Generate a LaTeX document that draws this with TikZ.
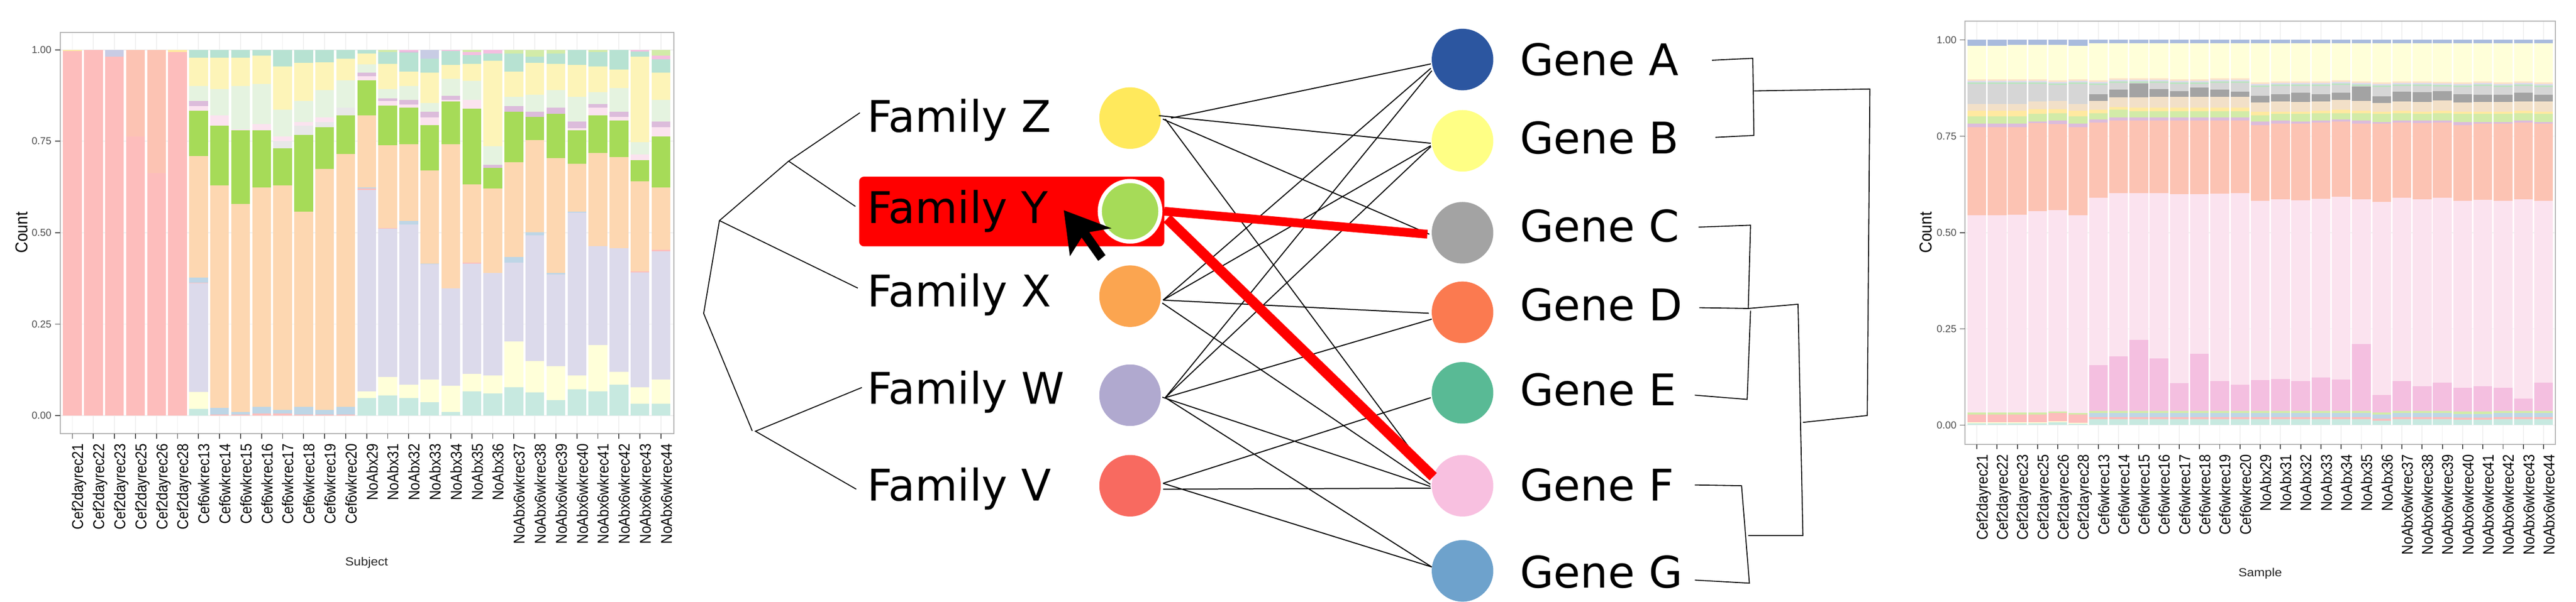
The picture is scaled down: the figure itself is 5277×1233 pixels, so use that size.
\documentclass[tikz,border=0pt]{standalone}
\usepackage{fontspec}
\setmainfont{DejaVu Sans}
\newfontfamily\chartfont{Liberation Sans}
\definecolor{tt}{HTML}{B7E2D2}
\definecolor{te}{HTML}{C7E9E0}
\definecolor{yl}{HTML}{FDF4B8}
\definecolor{ly}{HTML}{FFFFD9}
\definecolor{lg}{HTML}{E5F3E0}
\definecolor{ma}{HTML}{DCBCDB}
\definecolor{lp}{HTML}{FBE3EF}
\definecolor{gy}{HTML}{E8E8E8}
\definecolor{gn}{HTML}{A6DB58}
\definecolor{pc}{HTML}{FDD7B1}
\definecolor{bl}{HTML}{BED6E6}
\definecolor{sa}{HTML}{FDBDBC}
\definecolor{so}{HTML}{FCC3B3}
\definecolor{la}{HTML}{DCDAEB}
\definecolor{pw}{HTML}{C8CCE4}
\definecolor{pg}{HTML}{D2EBA8}
\definecolor{pk}{HTML}{F4BFE0}
\definecolor{pb}{HTML}{A9BBDD}
\definecolor{lgr}{HTML}{D6D6D6}
\definecolor{dgr}{HTML}{A3A3A3}
\definecolor{be}{HTML}{F2E0C8}
\definecolor{oy}{HTML}{FFE9A0}
\definecolor{pkl}{HTML}{FDE3C8}
\definecolor{tg}{HTML}{BBE4C0}
\definecolor{cA}{HTML}{2C56A0}
\definecolor{cB}{HTML}{FFFF85}
\definecolor{cC}{HTML}{A3A3A3}
\definecolor{cD}{HTML}{FB7A50}
\definecolor{cE}{HTML}{59BA95}
\definecolor{cF}{HTML}{F8C0E0}
\definecolor{cG}{HTML}{6EA2CC}
\definecolor{cZ}{HTML}{FFE95C}
\definecolor{cY}{HTML}{A6DB58}
\definecolor{cX}{HTML}{FBA550}
\definecolor{cW}{HTML}{B0A9CF}
\definecolor{cV}{HTML}{F86A60}
\tikzset{
  dot/.style={circle,minimum size=1.26cm,inner sep=0pt,outer sep=0pt,fill=#1},
  bigtext/.style={anchor=base west,inner sep=0pt,font=\fontsize{25.4}{30}\selectfont},
  thinedge/.style={line width=0.6pt,black},
  rededgeC/.style={line width=5.1pt,red},
  rededgeF/.style={line width=6pt,red},
  treeedge/.style={line width=0.55pt,black,line join=miter},
  panelbox/.style={draw=black!30,line width=0.6pt},
  gridln/.style={draw=black!6,line width=0.5pt},
  tickln/.style={draw=black!70,line width=0.55pt},
  ticktext/.style={anchor=east,inner sep=0pt,text=black!70,font=\chartfont\fontsize{5.9}{7}\selectfont},
  xtext/.style={rotate=90,anchor=base east,inner sep=0pt,font=\chartfont\fontsize{9.1}{10}\selectfont},
  titletext/.style={inner sep=0pt,font=\chartfont\fontsize{10}{11}\selectfont},
  subtext/.style={inner sep=0pt,text=black!85,font=\chartfont\fontsize{6.8}{9}\selectfont},
}
\newcommand{\lbar}[2]{\foreach \yt/\cc in {#2}{\fill[fill=\cc] ({148.3+(#1-1)*43.06-19.2},\yt) rectangle ({148.3+(#1-1)*43.06+19.2},1083);}}
\begin{document}
\begin{tikzpicture}[x=0.01cm,y=-0.01cm]
\useasboundingbox (0,0) rectangle (5277,1233);
\fill[white] (0,0) rectangle (5277,1233);

%% LEFT CHART
\begin{scope}[y=-0.007864cm]
\foreach \i in {0,...,28}{\draw[gridln] ({148.3+\i*43.06},84) -- ({148.3+\i*43.06},1130);}
\foreach \v in {130,368,607,845,1083}{\draw[gridln] (123,\v) -- (1380,\v);}
\lbar{1}{130/oy,133/sa}
\lbar{2}{130/sa}
\lbar{3}{130/pw,148/sa}
\lbar{4}{130/so,356/sa}
\lbar{5}{130/so,451/sa}
\lbar{6}{130/oy,135/sa}
\lbar{7}{130/tt,150/yl,224/lg,263/ma,277/lp,289/gn,407/pc,724/bl,737/sa,738/la,1022/ly,1066/te}
\lbar{8}{130/tt,150/yl,232/lg,300/lp,328/gn,483/pc,1063/bl,1080/sa}
\lbar{9}{130/tt,150/yl,224/lg,337/lp,340/gn,531/pc,1074/bl,1080/sa}
\lbar{10}{130/tt,145/yl,219/lg,324/lp,340/gn,488/pc,1060/bl,1078/sa}
\lbar{11}{130/tt,173/yl,286/lg,356/lp,368/gy,387/gn,483/pc,1068/bl,1078/sa}
\lbar{12}{130/tt,164/yl,263/lg,318/lp,328/gy,351/gn,551/pc,1060/bl,1080/sa}
\lbar{13}{130/tt,162/yl,235/lg,306/lp,318/gy,331/gn,440/pc,1068/bl,1080/sa}
\lbar{14}{130/tt,153/yl,210/lg,280/gy,300/gn,402/pc,1060/bl,1080/sa}
\lbar{15}{130/tt,139/yl,168/lg,189/ma,198/lp,210/gn,300/pc,488/bl,491/sa,495/la,1020/ly,1037/te}
\lbar{16}{130/pg,136/tt,167/yl,232/lg,257/ma,263/lp,275/gn,379/pc,594/sa,596/la,983/ly,1031/te}
\lbar{17}{130/pk,134/ma,137/tt,187/yl,224/lg,260/ma,272/lp,280/gn,376/pc,576/bl,585/la,1003/ly,1037/te}
\lbar{18}{130/pw,153/tt,189/yl,268/lg,291/ma,306/lp,326/gn,444/pc,687/bl,689/la,989/ly,1048/te}
\lbar{19}{130/pk,133/tt,169/yl,206/lg,249/ma,260/lp,265/gn,376/pc,752/la,1006/ly,1074/te}
\lbar{20}{130/pg,136/pk,144/tt,167/yl,211/lg,261/lp,283/gn,480/pc,685/sa,687/la,975/ly,1020/te}
\lbar{21}{130/pk,140/tt,158/yl,381/lg,430/ma,438/gn,491/pc,712/la,978/ly,1026/te}
\lbar{22}{130/pg,139/tt,187/yl,252/lg,277/ma,291/gn,423/pc,670/bl,684/la,890/ly,1009/te}
\lbar{23}{130/pg,148/tt,164/yl,247/lg,291/ma,305/gn,365/pc,605/bl,613/la,941/ly,1023/te}
\lbar{24}{130/pg,139/tt,167/yl,235/lg,280/ma,296/gn,412/pc,712/bl,715/la,955/ly,1043/te}
\lbar{25}{130/tt,169/yl,253/lg,317/ma,334/lp,340/gn,427/pc,552/bl,555/la,978/ly,1015/te}
\lbar{26}{130/pg,136/tt,173/yl,240/lg,271/ma,280/lp,300/gn,398/pc,641/la,899/ly,1020/te}
\lbar{27}{130/tt,181/yl,230/lg,291/ma,305/lp,314/gn,409/pc,647/la,969/ly,1003/te}
\lbar{28}{130/pk,134/tt,148/yl,371/lg,403/lp,418/gn,472/pc,707/sa,710/la,1009/ly,1052/te}
\lbar{29}{130/pg,145/pk,155/tt,189/yl,261/lg,317/ma,331/lp,356/gn,488/pc,651/sa,655/la,989/ly,1052/te}
\draw[panelbox] (123,84) rectangle (1380,1130);
\foreach \v/\t in {130/1.00,368/0.75,607/0.50,845/0.25,1083/0.00}{
  \draw[tickln] (113,\v) -- (123,\v);
  \node[ticktext,name=lt\t] at (106,\v) {\t};
}
\foreach \t [count=\i from 0] in {Cef2dayrec21,Cef2dayrec22,Cef2dayrec23,Cef2dayrec25,Cef2dayrec26,Cef2dayrec28,Cef6wkrec13,Cef6wkrec14,Cef6wkrec15,Cef6wkrec16,Cef6wkrec17,Cef6wkrec18,Cef6wkrec19,Cef6wkrec20,NoAbx29,NoAbx31,NoAbx32,NoAbx33,NoAbx34,NoAbx35,NoAbx36,NoAbx6wkrec37,NoAbx6wkrec38,NoAbx6wkrec39,NoAbx6wkrec40,NoAbx6wkrec41,NoAbx6wkrec42,NoAbx6wkrec43,NoAbx6wkrec44}{
  \draw[tickln] ({148.3+\i*43.06},1130) -- ({148.3+\i*43.06},1143);
  \node[xtext,name=lx\i] at ({148.3+\i*43.06+22.5},1156) {\scalebox{0.88}[1]{\t}};
}
\node[titletext,rotate=90,name=lcount] at (44,606) {\scalebox{0.9}[1]{Count}};
\node[subtext,name=lsubject] at (751,1466) {\scalebox{1.1}[1]{Subject}};
\end{scope}

%% RIGHT CHART
\begin{scope}[y=-0.007864cm]
\foreach \i in {0,...,28}{\draw[gridln] ({4049.6+\i*41.46},55) -- ({4049.6+\i*41.46},1158);}
\foreach \v in {104,355,607,857,1108}{\draw[gridln] (4025,\v) -- (5235,\v);}
\foreach \idx/\qb/\qly/\qlg/\qdg/\qbe/\qor/\qpg/\qma/\qsa/\qlp/\qpk in {
0/119/207/271/271/289/303/322/331/561/1075/1075,
1/120/207/271/271/289/303/322/331/561/1075/1075,
2/117/207/271/271/289/303/322/331/560/1075/1075,
3/117/207/265/265/285/296/317/321/550/1075/1075,
4/117/209/263/263/285/295/314/323/547/1072/1072,
5/120/207/271/271/289/303/322/331/561/1076/1076,
6/113/210/246/263/286/295/311/319/515/952/1071,
7/113/204/234/254/279/286/306/314/503/929/1071,
8/113/204/218/254/280/290/306/314/504/886/1071,
9/113/204/232/253/280/290/306/314/504/934/1071,
10/113/207/238/252/280/290/306/314/506/999/1071,
11/113/207/228/253/280/290/306/314/506/922/1071,
12/113/204/234/253/280/290/306/314/505/993/1071,
13/113/204/239/253/280/290/306/314/504/1003/1071,
14/113/215/250/267/291/300/317/326/524/991/1071,
15/113/212/245/264/291/296/314/322/520/988/1071,
16/113/212/242/266/291/296/317/322/522/993/1071,
17/113/212/245/264/288/295/314/320/518/984/1071,
18/113/210/242/260/286/295/311/317/513/989/1071,
19/113/212/226/263/288/295/314/322/520/897/1071,
20/113/215/251/269/291/296/318/322/526/1030/1075,
21/113/212/239/264/288/295/314/319/515/993/1071,
22/113/212/240/266/291/296/314/321/520/1007/1071,
23/113/213/237/262/288/295/314/319/515/997/1071,
24/113/215/245/267/291/296/318/326/524/1011/1073,
25/113/212/247/266/291/296/318/322/521/1007/1073,
26/113/215/247/266/291/296/318/322/524/1011/1071,
27/113/212/241/264/288/295/314/319/520/1039/1071,
28/113/215/247/264/291/296/318/322/524/997/1071}{
  \pgfmathsetmacro{\xa}{4049.6+\idx*41.46-19.2}
  \pgfmathsetmacro{\xb}{4049.6+\idx*41.46+19.2}
  \foreach \yt/\cc in {104/pb,\qb/ly,\qly/pkl,{\qly+4}/la,{\qly+8}/tg,{\qly+12}/lgr,\qlg/dgr,\qdg/be,\qbe/oy,\qor/pg,\qpg/ma,\qma/so,\qsa/lp,\qlp/pk}{
    \fill[fill=\cc] (\xa,{\yt}) rectangle (\xb,1108);
  }
  \ifnum\idx<6
    \fill[fill=pg] (\xa,\qpk) rectangle (\xb,1108);
    \fill[fill=sa] (\xa,{\qpk+5}) rectangle (\xb,1108);
    \fill[fill=ly] (\xa,{\qpk+26}) rectangle (\xb,1108);
    \fill[fill=te] (\xa,{\qpk+29}) rectangle (\xb,1108);
  \else
    \fill[fill=pg] (\xa,\qpk) rectangle (\xb,1108);
    \fill[fill=bl] (\xa,{\qpk+6}) rectangle (\xb,1108);
    \fill[fill=sa] (\xa,{\qpk+16}) rectangle (\xb,1108);
    \fill[fill=te] (\xa,{\qpk+21}) rectangle (\xb,1108);
  \fi
}
\draw[panelbox] (4025,55) rectangle (5235,1158);
\foreach \v/\t in {104/1.00,355/0.75,607/0.50,857/0.25,1108/0.00}{
  \draw[tickln] (4015,\v) -- (4025,\v);
  \node[ticktext,name=rt\t] at (4008.5,\v) {\t};
}
\foreach \t [count=\i from 0] in {Cef2dayrec21,Cef2dayrec22,Cef2dayrec23,Cef2dayrec25,Cef2dayrec26,Cef2dayrec28,Cef6wkrec13,Cef6wkrec14,Cef6wkrec15,Cef6wkrec16,Cef6wkrec17,Cef6wkrec18,Cef6wkrec19,Cef6wkrec20,NoAbx29,NoAbx31,NoAbx32,NoAbx33,NoAbx34,NoAbx35,NoAbx36,NoAbx6wkrec37,NoAbx6wkrec38,NoAbx6wkrec39,NoAbx6wkrec40,NoAbx6wkrec41,NoAbx6wkrec42,NoAbx6wkrec43,NoAbx6wkrec44}{
  \draw[tickln] ({4049.6+\i*41.46},1158) -- ({4049.6+\i*41.46},1171);
  \node[xtext,name=rx\i] at ({4049.6+\i*41.46+22.5},1184) {\scalebox{0.88}[1]{\t}};
}
\node[titletext,rotate=90,name=rcount] at (3945,606) {\scalebox{0.9}[1]{Count}};
\node[subtext,name=rsample] at (4630,1495) {\scalebox{1.1}[1]{Sample}};
\end{scope}

%% CENTRE: selection box
\fill[red,rounded corners=0.1cm] (1760,362) rectangle (2385,505);

%% CENTRE: nodes
\node[dot=cZ] (fZ) at (2315,242) {};
\node[dot=cX] (fX) at (2315,607) {};
\node[dot=cW] (fW) at (2315,810) {};
\node[dot=cV] (fV) at (2315,995.5) {};
\node[dot=cY,minimum size=1.24cm,draw=white,line width=2.4pt] (fY) at (2315,433) {};
\node[dot=cA] (gA) at (2996,122) {};
\node[dot=cB] (gB) at (2996,288.6) {};
\node[dot=cC] (gC) at (2996,477) {};
\node[dot=cD] (gD) at (2996,640) {};
\node[dot=cE] (gE) at (2996,805) {};
\node[dot=cF] (gF) at (2996,995.5) {};
\node[dot=cG] (gG) at (2996,1170) {};
\node[bigtext] (tZ) at (1776,271) {Family Z};
\node[bigtext] (tY) at (1776,457) {Family Y};
\node[bigtext] (tX) at (1776,629) {Family X};
\node[bigtext] (tW) at (1776,828) {Family W};
\node[bigtext] (tV) at (1776,1026) {Family V};
\node[bigtext] (tA) at (3113,155) {Gene A};
\node[bigtext] (tB) at (3113,315) {Gene B};
\node[bigtext] (tC) at (3113,495) {Gene C};
\node[bigtext] (tD) at (3113,656.6) {Gene D};
\node[bigtext] (tE) at (3113,831) {Gene E};
\node[bigtext] (tF) at (3113,1026) {Gene F};
\node[bigtext] (tG) at (3113,1205) {Gene G};

%% CENTRE: bipartite connectors
\draw[thinedge] ([shift={(84,0)}]fZ.center) -- ([shift={(-65,9)}]gA.center);
\draw[thinedge] ([shift={(59,-5)}]fZ.center) -- ([shift={(-65,5)}]gB.center);
\draw[thinedge] ([shift={(67,2)}]fZ.center) -- ([shift={(-68,3)}]gC.center);
\draw[thinedge] ([shift={(72,2)}]fZ.center) -- ([shift={(-95.5,-60)}]gF.center);
\draw[thinedge] ([shift={(67.6,8)}]fX.center) -- ([shift={(-65,18)}]gA.center);
\draw[thinedge] ([shift={(67.6,8)}]fX.center) -- ([shift={(-65,10)}]gB.center);
\draw[thinedge] ([shift={(67.6,8)}]fX.center) -- ([shift={(-69,2)}]gD.center);
\draw[thinedge] ([shift={(66,14)}]fX.center) -- ([shift={(-66,-3)}]gF.center);
\draw[thinedge] ([shift={(72,5)}]fW.center) -- ([shift={(-63,23)}]gA.center);
\draw[thinedge] ([shift={(72,5)}]fW.center) -- ([shift={(-65,12)}]gB.center);
\draw[thinedge] ([shift={(72,5)}]fW.center) -- ([shift={(-63,14)}]gD.center);
\draw[thinedge] ([shift={(66,4)}]fW.center) -- ([shift={(-66,1.5)}]gF.center);
\draw[thinedge] ([shift={(72,5)}]fW.center) -- ([shift={(-63,-8)}]gG.center);
\draw[thinedge] ([shift={(67.6,-5)}]fV.center) -- ([shift={(-65,10)}]gE.center);
\draw[thinedge] ([shift={(67.6,7)}]fV.center) -- ([shift={(-65,5)}]gF.center);
\draw[thinedge] ([shift={(67.6,-5)}]fV.center) -- ([shift={(-63,-8)}]gG.center);
\draw[rededgeC] ([shift={(70,0)}]fY.center) -- ([shift={(-72,3)}]gC.center);
\draw[rededgeF] ([shift={(76,15)}]fY.center) -- ([shift={(-60,-18.5)}]gF.center);

%% CENTRE: left tree and cursor
\begin{scope}[shift={(1400,0)},x=0.00829cm,y=-0.007864cm]
\coordinate (lroot) at (50,817);
\coordinate (la1) at (89,575);
\coordinate (la2) at (260,420);
\coordinate (la3) at (170,1123);
\coordinate (la4) at (178,1124);
\coordinate (lz) at (436,294);
\coordinate (ly) at (425,538);
\coordinate (lx) at (431,751);
\coordinate (lw) at (441,1010);
\coordinate (lv) at (427,1275);
\draw[treeedge] (lz) -- (la2) -- (la1) -- (lroot) -- (la3);
\draw[treeedge] (ly) -- (la2);
\draw[treeedge] (lx) -- (la1);
\draw[treeedge] (lw) -- (la4) -- (lv);
\fill[black] (940,548) -- (1058,595) -- (1003,605) -- (1043,665) -- (1025,680) -- (984,619) -- (955,668) -- cycle;
\end{scope}

%% CENTRE: right tree
\begin{scope}[shift={(2700,0)},x=0.007653cm,y=-0.007864cm]
\coordinate (ra) at (1053,157);
\coordinate (rb) at (1062,358);
\coordinate (rc) at (1017,592);
\coordinate (rd) at (1019,802);
\coordinate (re) at (1007,1030);
\coordinate (rf) at (1007,1264);
\coordinate (rg) at (1007,1512);
\draw[treeedge] (ra) -- (1162,152) -- (1165,353) -- (rb);
\draw[treeedge] (1165,237) -- (1475,232) -- (1468,1083) -- (1296,1101);
\draw[treeedge] (rc) -- (1156,587) -- (1150,804) -- (rd);
\draw[treeedge] (1150,804) -- (1283,793) -- (1296,1396) -- (1150,1396);
\draw[treeedge] (1156,810) -- (1147,1041) -- (re);
\draw[treeedge] (rf) -- (1132,1266) -- (1153,1520) -- (rg);
\end{scope}
\end{tikzpicture}
\end{document}
